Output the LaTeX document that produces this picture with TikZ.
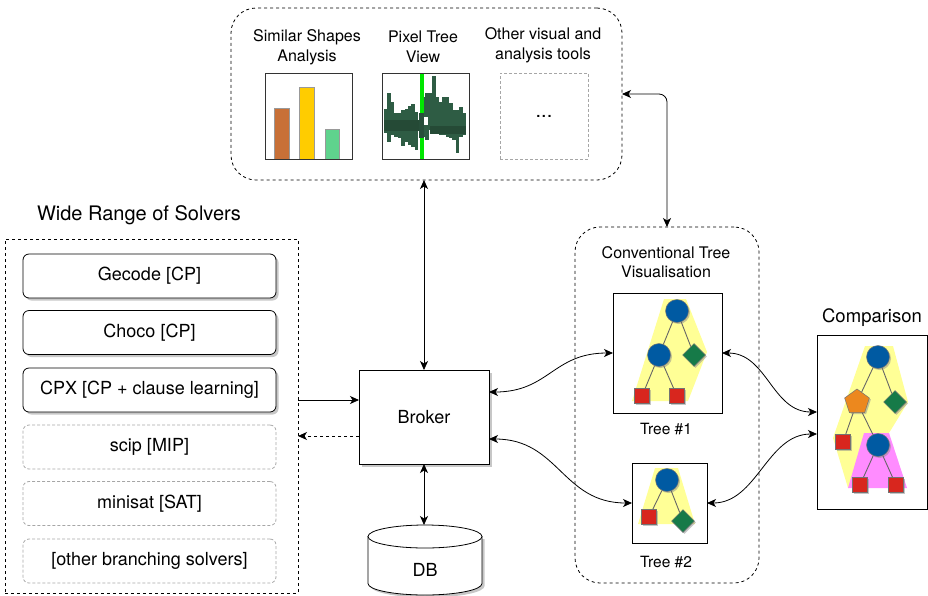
\documentclass[tikz,border=0pt]{standalone}
\usepackage{fontspec}
\setmainfont{TeX Gyre Heros}
\usetikzlibrary{arrows.meta,shapes.geometric,shadows,calc}

\definecolor{hullyellow}{RGB}{255,255,150}
\definecolor{hullpink}{RGB}{255,140,255}
\definecolor{nodeblue}{RGB}{0,90,162}
\definecolor{nodegreen}{RGB}{22,122,72}
\definecolor{nodered}{RGB}{216,38,30}
\definecolor{nodeorange}{RGB}{236,136,30}
\definecolor{barorange}{RGB}{200,112,55}
\definecolor{baryellow}{RGB}{255,204,0}
\definecolor{bargreen}{RGB}{95,211,141}
\definecolor{pixgreen}{RGB}{46,92,68}
\definecolor{markgreen}{RGB}{0,230,0}

\tikzset{
  frame/.style={draw, line width=0.8pt, inner sep=0pt, outer sep=0pt},
  group/.style={draw, line width=0.8pt, dash pattern=on 3pt off 3pt, inner sep=0pt, outer sep=0pt},
  boxshadow/.style={drop shadow={shadow xshift=2.5pt, shadow yshift=-2.5pt, fill=black!22, opacity=1}},
  nodeshadow/.style={drop shadow={shadow xshift=1.5pt, shadow yshift=-1.5pt, fill=black!45, opacity=0.5}},
  solver/.style={frame, rounded corners=6pt, minimum width=253pt, minimum height=44pt,
    font=\fontsize{18}{20}\selectfont},
  fixedsolver/.style={solver, fill=white, boxshadow},
  optsolver/.style={solver, draw=black!35, dash pattern=on 3pt off 2pt},
  lbl/.style={align=center, inner sep=0pt},
  tip/.tip={Stealth[length=9pt,width=8pt,inset=2.5pt]},
  link/.style={line width=0.8pt, tip-tip},
  fwd/.style={line width=0.8pt, -tip},
  tedge/.style={draw=black!60, line width=0.9pt},
  tcirc/.style={circle, fill=nodeblue, draw=black!55, line width=0.5pt, minimum size=23pt, inner sep=0pt, nodeshadow},
  tdia/.style={diamond, fill=nodegreen, draw=black!55, line width=0.5pt, minimum width=23pt, minimum height=23pt, inner sep=0pt, nodeshadow},
  tsq/.style={rectangle, fill=nodered, draw=black!55, line width=0.5pt, minimum size=15pt, inner sep=0pt, nodeshadow},
  tpent/.style={regular polygon, regular polygon sides=5, fill=nodeorange, draw=black!55, line width=0.5pt, minimum size=26pt, inner sep=0pt, nodeshadow},
  bar/.style={draw=black!40, line width=1pt},
}

\begin{document}
\begin{tikzpicture}[x=1pt,y=-1pt]
\useasboundingbox (0,0) rectangle (928,595);

% ---------- analysis tools panel ----------
\node[group, rounded corners=25pt, minimum width=391pt, minimum height=172pt] (tools) at (426.5,94) {};

\node[lbl, font=\fontsize{16}{20}\selectfont] (simlbl) at (307,47) {Similar Shapes\\Analysis};
\node[lbl, font=\fontsize{16}{20}\selectfont] (pixlbl) at (423,47) {Pixel Tree\\View};
\node[lbl, font=\fontsize{16}{20}\selectfont] (othlbl) at (543,45) {Other visual and\\analysis tools};

% bar chart
\draw[bar, fill=barorange] (274,108) rectangle (289,159);
\draw[bar, fill=baryellow] (299,87) rectangle (314,159);
\draw[bar, fill=bargreen] (325,129) rectangle (339,159);
\node[frame, draw=black!80, minimum width=87pt, minimum height=86pt] (barchart) at (308.5,116) {};

% pixel tree: one column of cells per depth
\foreach \i/\t/\b in {1/109.3/133.3, 2/93.3/141.7, 3/101.7/135, 4/113.3/136.7, 5/113.3/138.3,
  6/110/146, 7/109.3/141.7, 8/106/145, 9/104/146.7, 10/111.7/150,
  12/97.3/116.7, 12/125/136.7, 13/93.3/116.7, 13/125/140,
  14/93.3/130, 15/76/128.3, 16/96.7/133, 17/101.7/135, 18/96.7/135,
  19/96.7/136.7, 20/103.3/138.3, 21/110/140, 22/110/153.3, 23/106.7/136.7, 24/113.3/135}
  \fill[pixgreen] ({384+(\i-1)*3.42},\t) rectangle ({384+\i*3.42+0.2},\b);
\fill[pixgreen!80!black] (384,120) rectangle (419,131);
\fill[pixgreen!80!black] (430,126) rectangle (466,134);
\fill[markgreen] (420,73) rectangle (424,159);
\fill[pixgreen!85!black] (419,113) rectangle (424,138);
\node[frame, draw=black!80, minimum width=87pt, minimum height=86pt] (pixtree) at (425.5,116) {};

% placeholder for further tools
\node[frame, draw=black!35, dash pattern=on 3pt off 2pt, minimum width=88pt, minimum height=86pt,
  font=\fontsize{20}{20}\selectfont] (more) at (544,116) {...};

% ---------- solvers ----------
\node[lbl, font=\fontsize{20}{24}\selectfont] (solvlbl) at (139,215) {Wide Range of Solvers};
\node[group, minimum width=293pt, minimum height=354pt] (solvers) at (151.5,416) {};

\node[fixedsolver] (gecode) at (149.5,276) {Gecode [CP]};
\node[fixedsolver] (choco) at (149.5,332.5) {Choco [CP]};
\node[fixedsolver] (cpx) at (149.5,390) {CPX [CP + clause learning]};
\node[optsolver] (scip) at (149.5,447) {scip [MIP]};
\node[optsolver] (minisat) at (149.5,503.5) {minisat [SAT]};
\node[optsolver] (others) at (149.5,561) {[other branching solvers]};

% ---------- broker and database ----------
\node[frame, fill=white, boxshadow, minimum width=130pt, minimum height=94pt,
  font=\fontsize{18}{20}\selectfont] (broker) at (424,417) {Broker};

\filldraw[fill=white, line width=0.8pt, boxshadow]
  (368,536.5) -- (368,583.5) .. controls (368,589.85) and (393.5,595) .. (425,595)
  .. controls (456.5,595) and (482,589.85) .. (482,583.5) -- (482,536.5) -- cycle;
\filldraw[fill=white, line width=0.8pt] (425,536.5) ellipse [x radius=57pt, y radius=11.5pt];
\node[lbl, font=\fontsize{18}{20}\selectfont] (db) at (425,570) {DB};
\coordinate (dbtop) at (425,525);

% ---------- tree views ----------
\node[group, rounded corners=25pt, minimum width=184pt, minimum height=356pt] (conv) at (667,405) {};
\node[lbl, font=\fontsize{16}{19}\selectfont] (convlbl) at (666,262) {Conventional Tree\\Visualisation};

% tree 1
\fill[hullyellow] (664,299) -- (686,299) -- (707,352) -- (688,401) -- (632,401) -- cycle;
\node[tcirc] (t1r) at (677,311) {};
\node[tcirc] (t1a) at (659,355) {};
\node[tdia] (t1b) at (694,355) {};
\node[tsq] (t1c) at (642,396) {};
\node[tsq] (t1d) at (677,396) {};
\draw[tedge] (t1r) -- (t1a);
\draw[tedge] (t1r) -- (t1b);
\draw[tedge] (t1a) -- (t1c);
\draw[tedge] (t1a) -- (t1d);
\node[frame, minimum width=109pt, minimum height=120pt] (tree1) at (667.5,353) {};
\node[lbl, font=\fontsize{15.5}{18}\selectfont] (tree1lbl) at (666,429) {Tree \#1};

% tree 2
\fill[hullyellow] (655,468) -- (678,468) -- (695,524) -- (638,524) -- cycle;
\node[tcirc] (t2r) at (667,480) {};
\node[tsq] (t2a) at (649,517) {};
\node[tdia] (t2b) at (683,521) {};
\draw[tedge] (t2r) -- (t2a);
\draw[tedge] (t2r) -- (t2b);
\node[frame, minimum width=75pt, minimum height=80pt] (tree2) at (669.5,503) {};
\node[lbl, font=\fontsize{15.5}{18}\selectfont] (tree2lbl) at (666,562) {Tree \#2};

% comparison
\node[lbl, font=\fontsize{18.5}{22}\selectfont] (complbl) at (872,318) {Comparison};
\fill[hullyellow] (865,346) -- (893,346) -- (908,402) -- (889,433) -- (848,488) -- (833,438) -- cycle;
\fill[hullpink] (864,433) -- (889,433) -- (907,488) -- (848,488) -- cycle;
\node[tcirc] (cr) at (878,357) {};
\node[tpent] (ca) at (857,402) {};
\node[tdia] (cb) at (895,402) {};
\node[tsq] (cc) at (843,442) {};
\node[tcirc] (cd) at (878,445) {};
\node[tsq] (ce) at (860,485) {};
\node[tsq] (cf) at (896,485) {};
\draw[tedge] (cr) -- (ca);
\draw[tedge] (cr) -- (cb);
\draw[tedge] (ca) -- (cc);
\draw[tedge] (ca) -- (cd);
\draw[tedge] (cd) -- (ce);
\draw[tedge] (cd) -- (cf);
\node[frame, minimum width=110pt, minimum height=174pt] (comp) at (872,422) {};

% ---------- connectors ----------
\draw[link, rounded corners=8pt] (tools.east) -| (conv.north);
\draw[link] (tools.south -| broker.north) -- (broker.north);
\draw[link] (broker.south) -- (broker.south |- dbtop);

\coordinate (inb) at ([yshift=17pt]broker.west);
\coordinate (outb) at ([yshift=-19pt]broker.west);
\draw[fwd] (solvers.east |- inb) -- (inb);
\draw[fwd, dash pattern=on 3pt off 3pt] (outb) -- (solvers.east |- outb);

\draw[link] ([yshift=25pt]broker.east) .. controls +(60,0) and +(-60,0) .. (tree1.west);
\draw[link] ([yshift=-22pt]broker.east) .. controls +(70,0) and +(-70,0) .. (tree2.west);
\draw[link] (tree1.east) .. controls +(45,0) and +(-45,0) .. ([yshift=10pt]comp.west);
\draw[link] (tree2.east) .. controls +(50,0) and +(-50,0) .. ([yshift=-12pt]comp.west);
\end{tikzpicture}
\end{document}
